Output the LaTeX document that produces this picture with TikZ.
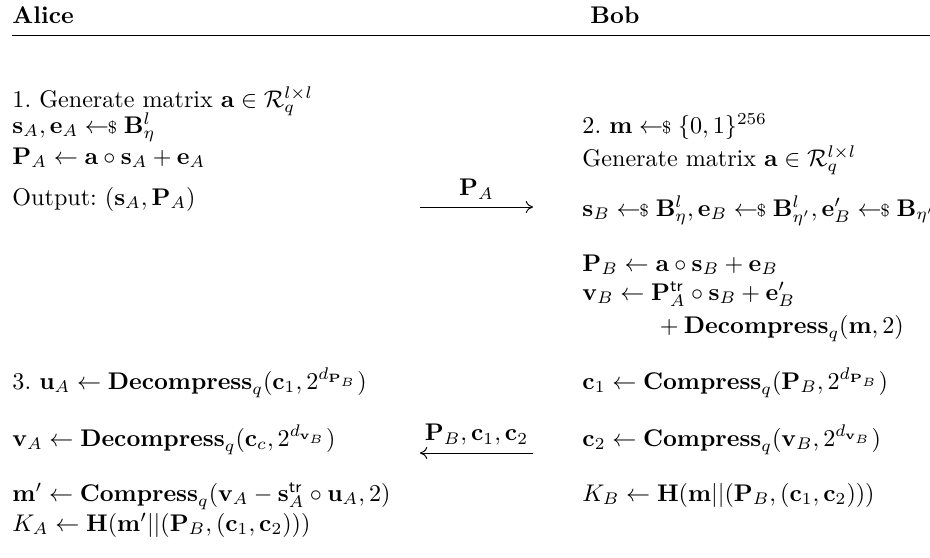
\documentclass[tikz,border=0pt]{standalone}
\usepackage{amssymb}
\usepackage{amsmath}
\usepackage{tikz}
\usetikzlibrary{positioning,arrows.meta}
\tikzset{
    party/.style={anchor=base west, inner sep=0pt, font=\bfseries},
    stepline/.style={anchor=base west, inner sep=0pt},
    msg/.style={-{To[length=3pt,width=5pt]}, line width=0.4pt},
    msg label/.style={above=2pt, inner sep=1pt}
}
\newcommand{\samp}{\mathrel{\leftarrow\!\!{\scriptstyle\$}}}
\newcommand{\Comp}{\mathbf{Compress}}
\newcommand{\Decomp}{\mathbf{Decompress}}
\frenchspacing

\begin{document}
\begin{tikzpicture}[x=0.415pt, y=-0.415pt]
    \useasboundingbox (0,0) rectangle (930,557);

    % Kopfzeile
    \node[party] (alice) at (12,23) {Alice};
    \node[party] (bob) at (590,23) {Bob};
    \coordinate (rule-l) at (12,35);
    \coordinate (rule-r) at (930,35);
    \draw (rule-l) -- (rule-r);

    % Alice
    \node[stepline] (a1) at (12,107) {1. Generate matrix $\mathbf{a}\in\mathcal{R}_q^{l\times l}$};
    \node[stepline] (a2) at (12,133) {$\mathbf{s}_A,\mathbf{e}_A \samp \mathbf{B}_\eta^l$};
    \node[stepline] (a3) at (12,164) {$\mathbf{P}_A\leftarrow\mathbf{a}\circ\mathbf{s}_A+\mathbf{e}_A$};
    \node[stepline] (a4) at (12,205) {Output: $(\mathbf{s}_A,\mathbf{P}_A)$};
    \node[stepline] (a5) at (12,389) {3. $\mathbf{u}_A\leftarrow\Decomp_q(\mathbf{c}_1,2^{d_{\mathbf{P}_B}})$};
    \node[stepline] (a6) at (12,446) {$\mathbf{v}_A\leftarrow\Decomp_q(\mathbf{c}_c,2^{d_{\mathbf{v}_B}})$};
    \node[stepline] (a7) at (12,501) {$\mathbf{m}'\leftarrow\Comp_q(\mathbf{v}_A-\mathbf{s}_A^{\mathsf{tr}}\circ\mathbf{u}_A,2)$};
    \node[stepline] (a8) at (12,531) {$K_A\leftarrow\mathbf{H}(\mathbf{m}'||(\mathbf{P}_B,(\mathbf{c}_1,\mathbf{c}_2)))$};

    % Bob
    \node[stepline] (b1) at (582,133) {2. $\mathbf{m}\samp\{0,1\}^{256}$};
    \node[stepline] (b2) at (582,166) {Generate matrix $\mathbf{a}\in\mathcal{R}_q^{l\times l}$};
    \node[stepline] (b3) at (582,216) {$\mathbf{s}_B\samp\mathbf{B}_\eta^l,\mathbf{e}_B\samp\mathbf{B}_{\eta'}^l,\mathbf{e}_B'\samp\mathbf{B}_{\eta'}$};
    \node[stepline] (b4) at (582,271) {$\mathbf{P}_B\leftarrow\mathbf{a}\circ\mathbf{s}_B+\mathbf{e}_B$};
    \node[stepline] (b5) at (582,300) {$\mathbf{v}_B\leftarrow\mathbf{P}_A^{\mathsf{tr}}\circ\mathbf{s}_B+\mathbf{e}_B'$};
    \node[stepline] (b6) at (654,333) {${}+\Decomp_q(\mathbf{m},2)$};
    \node[stepline] (b7) at (582,389) {$\mathbf{c}_1\leftarrow\Comp_q(\mathbf{P}_B,2^{d_{\mathbf{P}_B}})$};
    \node[stepline] (b8) at (582,446) {$\mathbf{c}_2\leftarrow\Comp_q(\mathbf{v}_B,2^{d_{\mathbf{v}_B}})$};
    \node[stepline] (b9) at (582,501) {$K_B\leftarrow\mathbf{H}(\mathbf{m}||(\mathbf{P}_B,(\mathbf{c}_1,\mathbf{c}_2)))$};

    % Nachrichten
    \coordinate (m1-l) at (420,207);
    \coordinate (m1-r) at (533,207);
    \draw[msg] (m1-l) -- (m1-r) node[midway, msg label] (m1) {$\mathbf{P}_A$};
    \coordinate (m2-l) at (420,453);
    \coordinate (m2-r) at (533,453);
    \draw[msg] (m2-r) -- (m2-l) node[midway, msg label] (m2) {$\mathbf{P}_B,\mathbf{c}_1,\mathbf{c}_2$};
\end{tikzpicture}
\end{document}
